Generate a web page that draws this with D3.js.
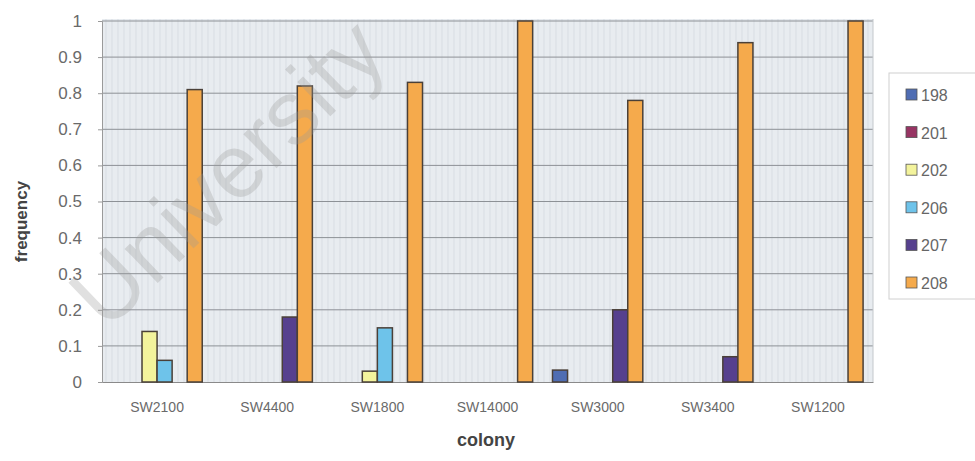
<!DOCTYPE html>
<html>
<head>
<meta charset="utf-8">
<script src="https://cdn.jsdelivr.net/npm/d3@7"></script>
<style>
  body { margin: 0; background: #fff; }
  text { font-family: "Liberation Sans", Arial, sans-serif; }
</style>
</head>
<body>
<div id="chart"></div>
<script>
// chart size and plot area
const width = 975,
    height = 461;
const margin = {top: 21, right: 102, bottom: 79, left: 102};

// data
const colonies = ["SW2100", "SW4400", "SW1800", "SW14000", "SW3000", "SW3400", "SW1200"];
const alleles = ["198", "201", "202", "206", "207", "208"];
const f198 = [0, 0, 0, 0, 0.033, 0, 0];
const f201 = [0, 0, 0, 0, 0, 0, 0];
const f202 = [0.14, 0, 0.03, 0, 0, 0, 0];
const f206 = [0.06, 0, 0.15, 0, 0, 0, 0];
const f207 = [0, 0.18, 0, 0, 0.2, 0.07, 0];
const f208 = [0.81, 0.82, 0.83, 1.0, 0.78, 0.94, 1.0];
const yTicks = [0, 0.1, 0.2, 0.3, 0.4, 0.5, 0.6, 0.7, 0.8, 0.9, 1];

const series = [f198, f201, f202, f206, f207, f208];

const colorScale = d3.scaleOrdinal()
    .domain(alleles)
    .range(["#4f6db3", "#973463", "#f3f39c", "#6ec3ea", "#56408e", "#f5aa4c"]);

const svg = d3.select("#chart")
  .append("svg")
    .attr("width", width)
    .attr("height", height);

const x0 = d3.scaleBand()
    .domain(colonies)
    .range([margin.left, width - margin.right])
    .paddingInner(0.18)
    .paddingOuter(0.09);

const x1 = d3.scaleBand()
    .domain(alleles)
    .range([0, x0.bandwidth()]);

const y = d3.scaleLinear()
    .domain([0, 1])
    .range([height - margin.bottom, margin.top]);

const plotW = width - margin.right - margin.left;

// plot background
svg.append("rect")
    .attr("x", margin.left)
    .attr("y", margin.top - 2)
    .attr("width", plotW)
    .attr("height", y(0) - margin.top + 2)
    .attr("fill", "#e8ecf0");

// faint minor vertical lines (the hatched look of the original)
svg.append("g")
  .selectAll("line")
  .data(d3.range(margin.left + 4, width - margin.right, 6))
  .join("line")
    .attr("x1", d => d).attr("x2", d => d)
    .attr("y1", margin.top - 2).attr("y2", y(0))
    .attr("stroke", "#d8dde3")
    .attr("stroke-width", 1);

// horizontal gridlines
svg.append("g")
  .selectAll("line")
  .data(yTicks.slice(1))
  .join("line")
    .attr("x1", margin.left).attr("x2", width - margin.right)
    .attr("y1", d => y(d)).attr("y2", d => y(d))
    .attr("stroke", "#8d9196")
    .attr("stroke-width", 1);

// y axis
const yAxis = svg.append("g")
    .attr("transform", `translate(${margin.left},0)`)
    .call(d3.axisLeft(y).tickValues(yTicks).tickSize(4).tickFormat(d3.format("")));
yAxis.select(".domain").attr("stroke", "#9a9a9a");
yAxis.selectAll(".tick line").attr("stroke", "#9a9a9a");
yAxis.selectAll("text")
    .attr("x", -20)
    .attr("fill", "#6a6a6a")
    .attr("font-size", 17);

// x axis
const xAxis = svg.append("g")
    .attr("transform", `translate(0,${y(0)})`)
    .call(d3.axisBottom(x0).tickSize(0).tickPadding(20));
xAxis.select(".domain").attr("stroke", "#8a8a8a");
xAxis.selectAll("text")
    .attr("fill", "#6a6a6a")
    .attr("font-size", 14);

// right border of plot
svg.append("line")
    .attr("x1", width - margin.right).attr("x2", width - margin.right)
    .attr("y1", margin.top - 2).attr("y2", y(0))
    .attr("stroke", "#c4c8cc");

// bars
const groups = svg.append("g")
  .selectAll("g")
  .data(colonies)
  .join("g")
    .attr("transform", d => `translate(${x0(d)},0)`);

groups.selectAll("rect")
  .data((c, i) => alleles.map((a, j) => ({allele: a, value: series[j][i]})).filter(d => d.value > 0))
  .join("rect")
    .attr("x", d => x1(d.allele))
    .attr("y", d => y(d.value))
    .attr("width", x1.bandwidth())
    .attr("height", d => y(0) - y(d.value))
    .attr("fill", d => colorScale(d.allele))
    .attr("stroke", "#4a4038")
    .attr("stroke-width", 1.5);

// axis titles
svg.append("text")
    .attr("transform", `translate(27,${(margin.top + y(0)) / 2 + 20}) rotate(-90)`)
    .attr("text-anchor", "middle")
    .attr("font-size", 17)
    .attr("font-weight", "bold")
    .attr("fill", "#444")
    .text("frequency");

svg.append("text")
    .attr("x", 486)
    .attr("y", 446)
    .attr("text-anchor", "middle")
    .attr("font-size", 18)
    .attr("font-weight", "bold")
    .attr("fill", "#444")
    .text("colony");

// legend
const legend = svg.append("g");
legend.append("rect")
    .attr("x", 889).attr("y", 73)
    .attr("width", 100).attr("height", 226)
    .attr("fill", "#fff")
    .attr("stroke", "#d0d0d0");

legend.selectAll(".legendColors")
  .data(colorScale.domain())
  .join("rect")
    .attr("x", 906)
    .attr("y", (d, i) => 89 + i * 37.6)
    .attr("width", 11)
    .attr("height", 11)
    .attr("fill", d => colorScale(d))
    .attr("stroke", "#555")
    .attr("stroke-width", 0.8);

legend.selectAll(".legendLabels")
  .data(colorScale.domain())
  .join("text")
    .attr("x", 921)
    .attr("y", (d, i) => 101 + i * 37.6)
    .attr("font-size", 16)
    .attr("fill", "#666")
    .text(d => d);

// watermark
svg.append("text")
    .attr("transform", "translate(232,178) rotate(-44)")
    .attr("text-anchor", "middle")
    .attr("dominant-baseline", "middle")
    .attr("font-size", 90)
    .attr("fill", "#9a9a9a")
    .attr("opacity", 0.3)
    .text("University");
</script>
</body>
</html>
